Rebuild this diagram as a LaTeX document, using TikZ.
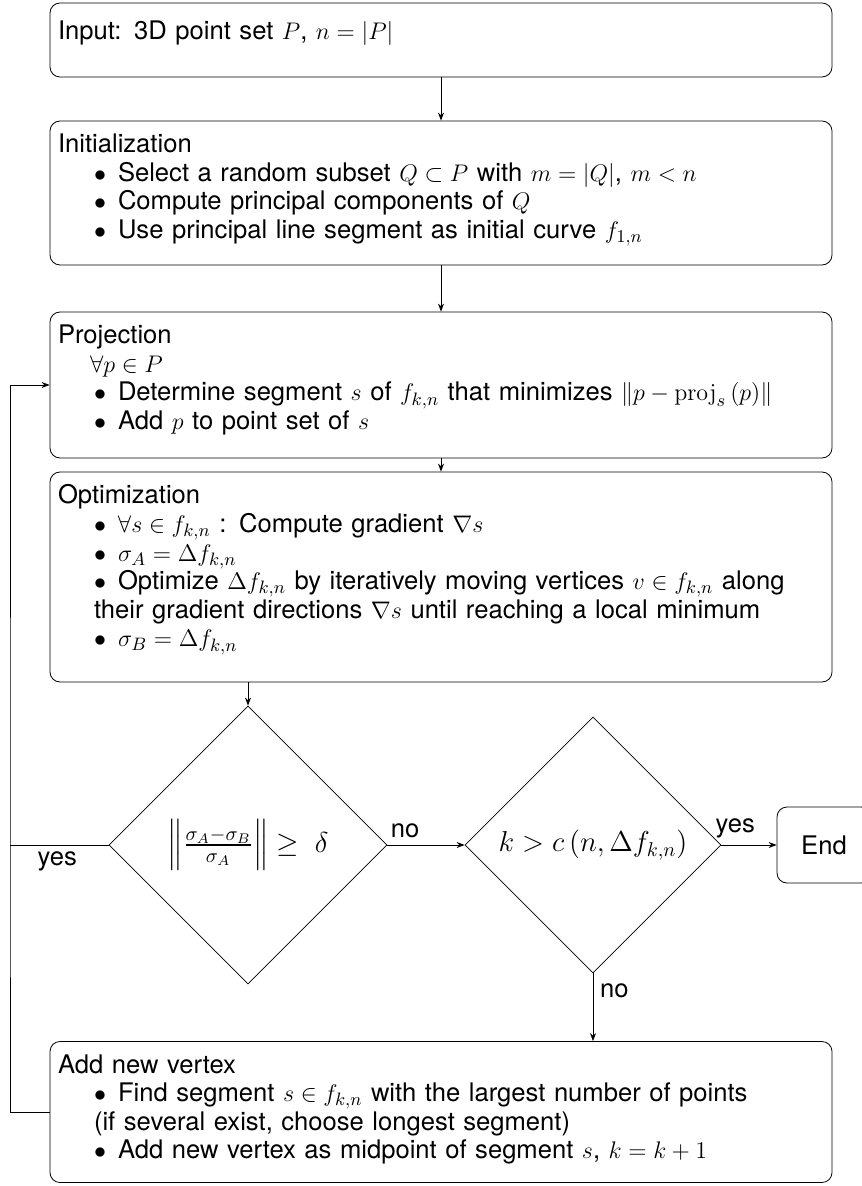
\documentclass[tikz,border=0pt]{standalone}
\usepackage{amsmath,amssymb}
\usepackage[no-math]{fontspec}
\setmainfont{TeX Gyre Heros}
\usetikzlibrary{arrows.meta,shapes.geometric}

\newcommand{\bul}{\leavevmode\makebox[18pt]{}\makebox[12pt][l]{$\bullet$}}
% second line of an item, starting under the bullet
\newcommand{\contline}[1]{\leavevmode\makebox[18pt]{}\makebox[0pt][l]{#1}}
\newcommand{\lastpad}[1]{\rule[-#1]{0pt}{#1}}

\begin{document}
\begin{tikzpicture}[
    x=0.5pt, y=-0.5pt,
    stage/.style={draw, rounded corners=5pt, text width=383pt, inner xsep=4pt, align=left, font=\fontsize{12.8}{14.3}\selectfont},
    decision/.style={draw, diamond, aspect=1, inner sep=0pt, font=\fontsize{14}{16}\selectfont},
    terminal/.style={draw, rounded corners=5pt, font=\fontsize{12.8}{14.3}\selectfont},
    lbl/.style={font=\fontsize{12.8}{14.3}\selectfont},
    >={Stealth[length=4pt,width=3pt]}
  ]
  \useasboundingbox (0,0) rectangle (861,1186);

  % Stages
  \node[stage, minimum height=37pt] (input) at (441,40) {Input: 3D point set $P$, $n=\left|P\right|$\lastpad{10pt}};
  \node[stage, minimum height=72pt] (init) at (441,193) {Initialization\\
    \bul Select a random subset $Q\subset P$ with $m=|Q|$, $m<n$\\
    \bul Compute principal components of $Q$\\
    \bul Use principal line segment as initial curve $f_{1,n}$\lastpad{6.8pt}};
  \node[stage, minimum height=73pt] (proj) at (441,385) {Projection\\
    \leavevmode\makebox[16pt]{}$\forall p\in P$\\
    \bul Determine segment $s$ of $f_{k,n}$ that minimizes $\left\|p-\mathrm{proj}_s\left(p\right)\right\|$\\
    \bul Add $p$ to point set of $s$\lastpad{7.8pt}};
  \node[stage, minimum height=105pt] (opt) at (441,577) {Optimization\\
    \bul $\forall s\in f_{k,n}$ : Compute gradient $\nabla s$\\
    \bul $\sigma_A=\Delta f_{k,n}$\\
    \bul Optimize $\Delta f_{k,n}$ by iteratively moving vertices $v\in f_{k,n}$ along\\
    \contline{their gradient directions $\nabla s$ until reaching a local minimum}\\
    \bul $\sigma_B=\Delta f_{k,n}$\lastpad{11.2pt}};

  % Decisions
  \node[decision, minimum width=139pt, minimum height=139pt] (gap) at (248,845) {$\left\|\frac{\sigma_A-\sigma_B}{\sigma_A}\right\|\geq\ \delta$};
  \node[decision, minimum width=128pt, minimum height=128pt] (limit) at (593,845) {$k>c\left(n,\Delta f_{k,n}\right)$};
  \node[terminal, minimum width=47pt, minimum height=38pt] (stop) at (824,845) {End};

  \node[stage, minimum height=70.5pt] (add) at (441,1112) {Add new vertex\\
    \bul Find segment $s\in f_{k,n}$ with the largest number of points\\
    \contline{(if several exist, choose longest segment)}\\
    \bul Add new vertex as midpoint of segment $s$, $k=k+1$\lastpad{5.3pt}};

  % Connectors
  \draw[->] (input) -- (init);
  \draw[->] (init) -- (proj);
  \draw[->] (proj) -- (opt);
  \draw[->] (opt.south -| gap.north) -- (gap.north);
  \draw[->] (gap.east) -- node[lbl, pos=0.23, above] {no} (limit.west);
  \draw[->] (limit.east) -- node[lbl, pos=0.25, above] {yes} (stop.west);
  \draw[->] (limit.south) -- node[lbl, pos=0.25, right] {no} (limit.south |- add.north);
  \coordinate (back) at (10,845);
  \draw (gap.west) -- node[lbl, pos=0.52, below] {yes} (back);
  \draw[->] (add.west) -| (back) |- (proj.west);
\end{tikzpicture}
\end{document}
